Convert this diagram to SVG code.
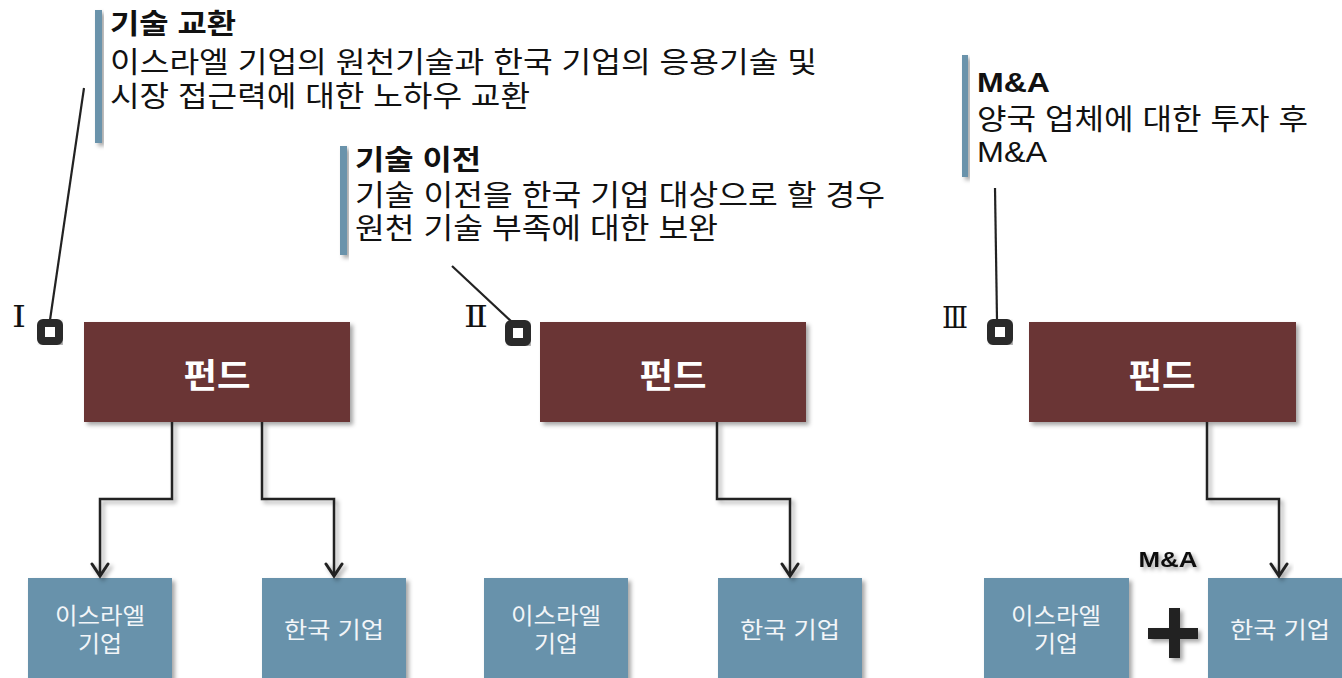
<svg xmlns="http://www.w3.org/2000/svg" width="1342" height="678" viewBox="0 0 1342 678">
<defs>
<filter id="sh" x="-20%" y="-20%" width="140%" height="140%">
<feDropShadow dx="3" dy="3" stdDeviation="2" flood-color="#000" flood-opacity="0.35"/>
</filter>
<marker id="ah" viewBox="0 0 20 20" refX="17" refY="10" markerWidth="20" markerHeight="20" markerUnits="userSpaceOnUse" orient="auto">
<path d="M5,2 L17,10 L5,18" fill="none" stroke="#222" stroke-width="3" stroke-linecap="round" stroke-linejoin="miter"/>
</marker>
</defs>
<style>
.txt{font-family:"Liberation Sans","Noto Sans CJK KR",sans-serif;fill:#111;font-size:29px}
.ttl{font-weight:bold;font-size:28px}
.bar{fill:#6a93ab;filter:url(#sh)}
.fund{fill:#6a3436;filter:url(#sh)}
.fundt{font-family:"Liberation Sans","Noto Sans CJK KR",sans-serif;font-weight:bold;font-size:34px;fill:#fff;text-anchor:middle}
.blue{fill:#6892ab;filter:url(#sh)}
.bt{font-family:"Liberation Sans","Noto Sans CJK KR",sans-serif;font-size:23px;fill:#f2f5f8;text-anchor:middle}
.lead{stroke:#222;stroke-width:2.2;fill:none}
.mk{fill:#fff;stroke:#2b2b2b;stroke-width:8;filter:url(#sh)}
.rom{font-family:"DejaVu Serif","Liberation Serif",serif;font-size:30px;fill:#111}
.conn{stroke:#222;stroke-width:2.5;fill:none;marker-end:url(#ah);filter:url(#sh)}
.dash{stroke:#222;stroke-width:3;fill:none;stroke-dasharray:11 7;marker-end:url(#ah);filter:url(#sh)}
</style>

<g id="note1">
<rect class="bar" x="95" y="10" width="7" height="133"/>
<text class="txt ttl" x="110" y="34" textLength="126" lengthAdjust="spacingAndGlyphs">기술 교환</text>
<text class="txt" x="110" y="73" textLength="707" lengthAdjust="spacingAndGlyphs">이스라엘 기업의 원천기술과 한국 기업의 응용기술 및</text>
<text class="txt" x="110" y="107" textLength="420" lengthAdjust="spacingAndGlyphs">시장 접근력에 대한 노하우 교환</text>
</g>
<g id="note2">
<rect class="bar" x="340" y="146" width="7" height="109"/>
<text class="txt ttl" x="355" y="170" textLength="126" lengthAdjust="spacingAndGlyphs">기술 이전</text>
<text class="txt" x="355" y="206" textLength="530" lengthAdjust="spacingAndGlyphs">기술 이전을 한국 기업 대상으로 할 경우</text>
<text class="txt" x="355" y="239" textLength="363" lengthAdjust="spacingAndGlyphs">원천 기술 부족에 대한 보완</text>
</g>
<g id="note3">
<rect class="bar" x="962" y="55" width="6" height="122"/>
<text class="txt ttl" x="977" y="92" textLength="73" lengthAdjust="spacingAndGlyphs">M&amp;A</text>
<text class="txt" x="977" y="130" textLength="331" lengthAdjust="spacingAndGlyphs">양국 업체에 대한 투자 후</text>
<text class="txt" x="977" y="162" textLength="70" lengthAdjust="spacingAndGlyphs">M&amp;A</text>
</g>

<g id="leaders">
<line class="lead" x1="84" y1="88" x2="50" y2="320"/>
<line class="lead" x1="452" y1="266" x2="512" y2="322"/>
<line class="lead" x1="995" y1="188" x2="997" y2="320"/>
</g>

<g id="marker1">
<text class="rom" x="12" y="327" textLength="14" lengthAdjust="spacingAndGlyphs">Ⅰ</text>
<rect class="mk" x="41" y="323" width="18" height="18" rx="2"/>
</g>
<g id="marker2">
<text class="rom" x="464" y="327" textLength="24" lengthAdjust="spacingAndGlyphs">Ⅱ</text>
<rect class="mk" x="509" y="324" width="18" height="18" rx="2"/>
</g>
<g id="marker3">
<text class="rom" x="942" y="328" textLength="26" lengthAdjust="spacingAndGlyphs">Ⅲ</text>
<rect class="mk" x="991" y="323" width="18" height="18" rx="2"/>
</g>

<g id="fund1">
<rect class="fund" x="84" y="322" width="266" height="100"/>
<text class="fundt" x="217" y="388" textLength="67" lengthAdjust="spacingAndGlyphs">펀드</text>
</g>
<g id="fund2">
<rect class="fund" x="540" y="322" width="266" height="100"/>
<text class="fundt" x="673" y="388" textLength="67" lengthAdjust="spacingAndGlyphs">펀드</text>
</g>
<g id="fund3">
<rect class="fund" x="1029" y="322" width="267" height="100"/>
<text class="fundt" x="1162" y="388" textLength="67" lengthAdjust="spacingAndGlyphs">펀드</text>
</g>

<g id="israel1">
<rect class="blue" x="28" y="578" width="144" height="104"/>
<text class="bt" x="100" y="624" textLength="90" lengthAdjust="spacingAndGlyphs">이스라엘</text>
<text class="bt" x="100" y="652" textLength="44" lengthAdjust="spacingAndGlyphs">기업</text>
</g>
<g id="korea1">
<rect class="blue" x="262" y="578" width="144" height="104"/>
<text class="bt" x="334" y="638" textLength="100" lengthAdjust="spacingAndGlyphs">한국 기업</text>
</g>
<g id="israel2">
<rect class="blue" x="484" y="578" width="144" height="104"/>
<text class="bt" x="556" y="624" textLength="90" lengthAdjust="spacingAndGlyphs">이스라엘</text>
<text class="bt" x="556" y="652" textLength="44" lengthAdjust="spacingAndGlyphs">기업</text>
</g>
<g id="korea2">
<rect class="blue" x="718" y="578" width="144" height="104"/>
<text class="bt" x="790" y="638" textLength="100" lengthAdjust="spacingAndGlyphs">한국 기업</text>
</g>
<g id="israel3">
<rect class="blue" x="984" y="578" width="145" height="104"/>
<text class="bt" x="1056" y="624" textLength="90" lengthAdjust="spacingAndGlyphs">이스라엘</text>
<text class="bt" x="1056" y="652" textLength="44" lengthAdjust="spacingAndGlyphs">기업</text>
</g>
<g id="korea3">
<rect class="blue" x="1208" y="578" width="140" height="104"/>
<text class="bt" x="1280" y="638" textLength="100" lengthAdjust="spacingAndGlyphs">한국 기업</text>
</g>

<g id="connectors">
<path class="conn" d="M172,422 V499 H100 V576"/>
<path class="conn" d="M262,422 V499 H334 V576"/>
<path class="dash" d="M173,600 H260"/>
<path class="dash" d="M261,645 H174"/>
<path class="conn" d="M717,422 V499 H790 V576"/>
<path class="dash" d="M629,628 H716"/>
<path class="conn" d="M1207,422 V499 H1279 V576"/>
</g>

<g id="merge">
<text x="1168" y="567" text-anchor="middle" textLength="59" lengthAdjust="spacingAndGlyphs" style="font-family:'Liberation Sans','Noto Sans CJK KR',sans-serif;font-weight:bold;font-size:22px;fill:#111;filter:url(#sh)">M&amp;A</text>
<path d="M1148,628 H1198 V639 H1148 Z M1169,608 H1180 V658 H1169 Z" fill="#222" style="filter:url(#sh)"/>
</g>
</svg>
